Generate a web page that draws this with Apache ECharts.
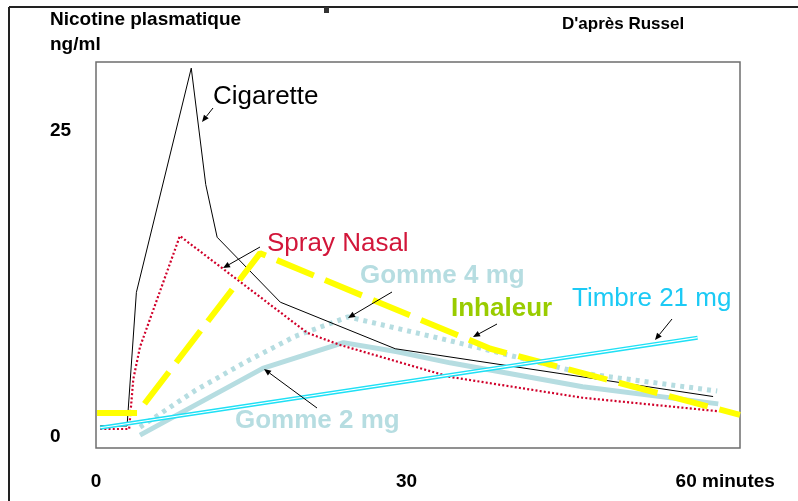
<!DOCTYPE html>
<html>
<head>
<meta charset="utf-8">
<script src="https://cdn.jsdelivr.net/npm/echarts@6/dist/echarts.min.js"></script>
<style>
  html, body { margin: 0; padding: 0; background: #fff; }
  #main { width: 798px; height: 501px; }
</style>
</head>
<body>
<div id="main"></div>
<script>
// minutes / ng/ml
var cigarette = [[0.4, 0.9], [3.0, 0.9], [3.9, 11.8], [9.2, 30.1], [10.6, 20.6], [11.7, 16.3], [17.8, 11.0], [28.9, 7.2], [59.6, 3.3]];
var sprayNasal = [[0.4, 0.65], [3.2, 0.65], [3.6, 4.7], [4.25, 7.35], [8.1, 16.4], [20.4, 8.5], [23.6, 7.5], [34.2, 4.9], [47.0, 3.2], [60.1, 2.1]];
var inhaleur = [[0.1, 1.96], [4.0, 1.96], [15.85, 15.0], [38.1, 7.2], [62.2, 1.8]];
var gomme4 = [[4.25, 0.8], [9.6, 3.8], [14.4, 6.1], [19.2, 8.2], [24.35, 9.8], [34.2, 7.85], [47.0, 5.2], [60.0, 3.75]];
var gomme2 = [[4.25, 0.15], [16.1, 5.6], [23.9, 7.7], [29.1, 6.95], [34.2, 6.05], [47.0, 4.1], [60.1, 2.7]];
var timbre = [[0.4, 0.75], [58.1, 8.1]];

var xTicks = [0, 30, 60];
var yTicks = [0, 25];

var chartDom = document.getElementById('main');
var myChart = echarts.init(chartDom);

var font = 'Liberation Sans, Arial, sans-serif';

function arrow(x1, y1, x2, y2) {
  var a = Math.atan2(y2 - y1, x2 - x1);
  var len = 7, w = 3;
  var bx = x2 - len * Math.cos(a), by = y2 - len * Math.sin(a);
  return [
    { type: 'line', shape: { x1: x1, y1: y1, x2: bx, y2: by }, style: { stroke: '#000', lineWidth: 1 }, z: 20 },
    { type: 'polygon', shape: { points: [[x2, y2], [bx + w * Math.sin(a), by - w * Math.cos(a)], [bx - w * Math.sin(a), by + w * Math.cos(a)]] }, style: { fill: '#000' }, z: 20 }
  ];
}

function label(txt, x, y, color, bold) {
  return { type: 'text', left: x, top: y - 15, z: 20,
    style: { text: txt, fill: color, font: (bold ? 'bold ' : '') + '26px ' + font } };
}

var graphics = [
  { type: 'line', shape: { x1: 9, y1: 7, x2: 798, y2: 7 }, style: { stroke: '#222', lineWidth: 2 } },
  { type: 'line', shape: { x1: 9, y1: 7, x2: 9, y2: 501 }, style: { stroke: '#222', lineWidth: 2 } },
  { type: 'rect', shape: { x: 324, y: 7, width: 5, height: 6 }, style: { fill: '#333' } },
  { type: 'text', left: 50, top: 10, style: { text: 'Nicotine plasmatique', fill: '#000', font: 'bold 19px ' + font } },
  { type: 'text', left: 50, top: 35, style: { text: 'ng/ml', fill: '#000', font: 'bold 19px ' + font } },
  { type: 'text', left: 562, top: 16, style: { text: "D'après Russel", fill: '#000', font: 'bold 17px ' + font } },
  label('Cigarette', 213, 99, '#000', false),
  label('Spray Nasal', 267, 246, '#d2163a', false),
  label('Gomme 4 mg', 360, 278, '#b6dde1', true),
  label('Inhaleur', 451, 311, '#99cc00', true),
  label('Timbre 21 mg', 572, 301, '#1ccaf5', false),
  label('Gomme 2 mg', 235, 423, '#b6dde1', true)
].concat(
  arrow(213, 108, 202, 122),
  arrow(260, 247, 223, 268),
  arrow(392, 292, 348, 318),
  arrow(497, 324, 473, 337),
  arrow(672, 319, 655, 340),
  arrow(317, 408, 264, 369)
);

myChart.setOption({
  animation: false,
  backgroundColor: '#fff',
  grid: {
    left: 96, right: 58, top: 62, bottom: 53,
    show: true, borderColor: '#6e6e6e', borderWidth: 1.5,
    outerBoundsMode: 'none'
  },
  xAxis: {
    type: 'value', min: 0, max: 62.2,
    axisLine: { show: false }, axisTick: { show: false }, splitLine: { show: false },
    axisLabel: {
      customValues: xTicks, margin: 24,
      color: '#000', fontFamily: font, fontWeight: 'bold', fontSize: 19,
      formatter: function (v) { return v === 60 ? '{m|60 minutes}' : String(v); },
      rich: { m: { color: '#000', fontFamily: font, fontWeight: 'bold', fontSize: 19, padding: [0, 0, 0, 16] } }
    }
  },
  yAxis: {
    type: 'value', min: -0.9, max: 30.6,
    axisLine: { show: false }, axisTick: { show: false }, splitLine: { show: false },
    axisLabel: {
      customValues: yTicks, margin: 46, align: 'left',
      color: '#000', fontFamily: font, fontWeight: 'bold', fontSize: 19
    }
  },
  series: [
    { name: 'Gomme 4 mg', type: 'line', data: gomme4, symbol: 'none',
      lineStyle: { color: '#b6dde1', width: 5, type: [4, 5] } },
    { name: 'Gomme 2 mg', type: 'line', data: gomme2, symbol: 'none',
      lineStyle: { color: '#b6dde1', width: 5 } },
    { name: 'Spray Nasal', type: 'line', data: sprayNasal, symbol: 'none',
      lineStyle: { color: '#d0002a', width: 2.2, type: [2, 2.2] } },
    { name: 'Cigarette', type: 'line', data: cigarette, symbol: 'none',
      lineStyle: { color: '#000', width: 1 } },
    { name: 'Inhaleur', type: 'line', data: inhaleur, symbol: 'none',
      lineStyle: { color: '#ffff00', width: 6, type: [40, 12] } },
    { name: 'Timbre 21 mg', type: 'line', data: timbre, symbol: 'none',
      lineStyle: { color: '#1ee0f5', width: 4 } },
    { name: 'Timbre 21 mg', type: 'line', data: timbre, symbol: 'none',
      lineStyle: { color: '#ffffff', width: 1.2 } }
  ],
  graphic: graphics
});

window.onresize = function () { myChart.resize(); };
</script>
</body>
</html>
